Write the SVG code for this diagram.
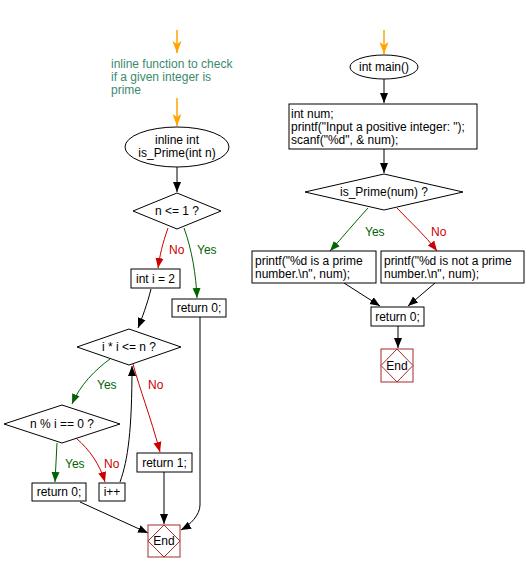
<svg xmlns="http://www.w3.org/2000/svg" width="526" height="572" viewBox="0 0 526 572">
<style>
text{font-family:"Liberation Sans",Arial,sans-serif;font-size:12px;fill:#000}
.shape{fill:#fff;stroke:#000;stroke-width:1}
.c{fill:none;stroke:#000;stroke-width:1}
.cy{fill:none;stroke:#006400;stroke-width:1}
.cn{fill:none;stroke:#cc0000;stroke-width:1}
.co{fill:none;stroke:#ffa500;stroke-width:1.5}
.ly{fill:#006400}
.ln{fill:#cc0000}
.cm{fill:#3b8a6e}
.end{fill:#fff;stroke:#a52a2a;stroke-width:1}
.mid{text-anchor:middle}
</style>
<defs>
<marker id="ab" markerWidth="10" markerHeight="10" refX="10" refY="5" orient="auto" markerUnits="userSpaceOnUse"><path d="M0,1 L10,5 L0,9 z" fill="#000"/></marker>
<marker id="ag" markerWidth="10" markerHeight="10" refX="10" refY="5" orient="auto" markerUnits="userSpaceOnUse"><path d="M0,1 L10,5 L0,9 z" fill="#006400"/></marker>
<marker id="ar" markerWidth="10" markerHeight="10" refX="10" refY="5" orient="auto" markerUnits="userSpaceOnUse"><path d="M0,1 L10,5 L0,9 z" fill="#cc0000"/></marker>
<marker id="ao" markerWidth="12" markerHeight="10" refX="12" refY="5" orient="auto" markerUnits="userSpaceOnUse"><path d="M0,0.5 L12,5 L0,9.5 L3,5 z" fill="#ffa500"/></marker>
</defs>
<g id="connectors">
<path class="co" d="M177,30 L177,53" marker-end="url(#ao)"/>
<path class="co" d="M177,98 L177,126" marker-end="url(#ao)"/>
<path class="c" d="M177,167 L177,192" marker-end="url(#ab)"/>
<path class="cn" d="M168,228 C162,245 160,255 158,268" marker-end="url(#ar)"/>
<path class="cy" d="M184,228 C192,250 196,275 197,298" marker-end="url(#ag)"/>
<path class="c" d="M151,289 C147,305 142,318 138,328" marker-end="url(#ab)"/>
<path class="cy" d="M110,359 C95,370 80,385 72,404" marker-end="url(#ag)"/>
<path class="cn" d="M133,364 C140,390 150,415 160,452" marker-end="url(#ar)"/>
<path class="cy" d="M57,443 L55,482" marker-end="url(#ag)"/>
<path class="cn" d="M76,438 C90,450 100,465 105,482" marker-end="url(#ar)"/>
<path class="c" d="M120,482 C128,460 132,430 132,366" marker-end="url(#ab)"/>
<path class="c" d="M164,472 L164,524" marker-end="url(#ab)"/>
<path class="c" d="M200,317 L200,505 C200,515 190,525 181,530" marker-end="url(#ab)"/>
<path class="c" d="M80,502 L148,533" marker-end="url(#ab)"/>
<path class="co" d="M384,30 L384,54" marker-end="url(#ao)"/>
<path class="c" d="M384,79 L384,103" marker-end="url(#ab)"/>
<path class="c" d="M384,149 L384,173" marker-end="url(#ab)"/>
<path class="cy" d="M368,208 C355,222 342,238 330,251" marker-end="url(#ag)"/>
<path class="cn" d="M397,208 C410,222 425,235 437,251" marker-end="url(#ar)"/>
<path class="c" d="M344,283 L380,306" marker-end="url(#ab)"/>
<path class="c" d="M435,283 L408,306" marker-end="url(#ab)"/>
<path class="c" d="M398,326 L398,348" marker-end="url(#ab)"/>
<text class="ln" x="169" y="254">No</text>
<text class="ly" x="197" y="254">Yes</text>
<text class="ly" x="97" y="389">Yes</text>
<text class="ln" x="148" y="389">No</text>
<text class="ly" x="65" y="468">Yes</text>
<text class="ln" x="104" y="468">No</text>
<text class="ly" x="365" y="236">Yes</text>
<text class="ln" x="431" y="236">No</text>
</g>
<g id="comment">
<text class="cm" x="111" y="68">inline function to check</text>
<text class="cm" x="111" y="81">if a given integer is</text>
<text class="cm" x="111" y="94">prime</text>
</g>
<g id="start_isprime">
<ellipse class="shape" cx="177" cy="147" rx="52" ry="20"/>
<text class="mid" x="177" y="144">inline int</text>
<text class="mid" x="177" y="157">is_Prime(int n)</text>
</g>
<g id="dec_n_le_1">
<polygon class="shape" points="133,211 177,193 221,211 177,229"/>
<text class="mid" x="177" y="215">n &lt;= 1 ?</text>
</g>
<g id="int_i">
<rect class="shape" x="131" y="269" width="49" height="19"/>
<text class="mid" x="155.5" y="283">int i = 2</text>
</g>
<g id="ret0a">
<rect class="shape" x="172" y="299" width="54" height="18"/>
<text class="mid" x="199" y="312">return 0;</text>
</g>
<g id="dec_ii">
<polygon class="shape" points="77,347 129,329 181,347 129,365"/>
<text class="mid" x="129" y="351">i * i &lt;= n ?</text>
</g>
<g id="dec_mod">
<polygon class="shape" points="4,424 62,405 120,424 62,443"/>
<text class="mid" x="62" y="428">n % i == 0 ?</text>
</g>
<g id="ret1">
<rect class="shape" x="137" y="453" width="55" height="19"/>
<text class="mid" x="164.5" y="467">return 1;</text>
</g>
<g id="ret0b">
<rect class="shape" x="32" y="483" width="54" height="18"/>
<text class="mid" x="59" y="496">return 0;</text>
</g>
<g id="iinc">
<rect class="shape" x="99" y="483" width="26" height="18"/>
<text class="mid" x="112" y="496">i++</text>
</g>
<g id="end1">
<rect class="end" x="148" y="525" width="32" height="32"/>
<polygon class="end" points="148,541 164,525 180,541 164,557"/>
<text class="mid" x="164" y="545">End</text>
</g>
<g id="start_main">
<ellipse class="shape" cx="384" cy="67" rx="34" ry="12"/>
<text class="mid" x="384" y="71">int main()</text>
</g>
<g id="decl">
<rect class="shape" x="289" y="104" width="188" height="45"/>
<text x="291" y="118">int num;</text>
<text x="291" y="131">printf("Input a positive integer: ");</text>
<text x="291" y="144">scanf("%d", &amp; num);</text>
</g>
<g id="dec_prime">
<polygon class="shape" points="305,192 384,174 463,192 384,210"/>
<text class="mid" x="384" y="196">is_Prime(num) ?</text>
</g>
<g id="pr_yes">
<rect class="shape" x="252" y="251" width="124" height="32"/>
<text x="255" y="265">printf("%d is a prime</text>
<text x="255" y="278">number.\n", num);</text>
</g>
<g id="pr_no">
<rect class="shape" x="381" y="251" width="143" height="32"/>
<text x="384" y="265">printf("%d is not a prime</text>
<text x="384" y="278">number.\n", num);</text>
</g>
<g id="ret0c">
<rect class="shape" x="371" y="307" width="53" height="19"/>
<text class="mid" x="397.5" y="321">return 0;</text>
</g>
<g id="end2">
<rect class="end" x="381" y="349" width="32" height="33"/>
<polygon class="end" points="381,365.5 397,349 413,365.5 397,382"/>
<text class="mid" x="397" y="370">End</text>
</g>
</svg>
